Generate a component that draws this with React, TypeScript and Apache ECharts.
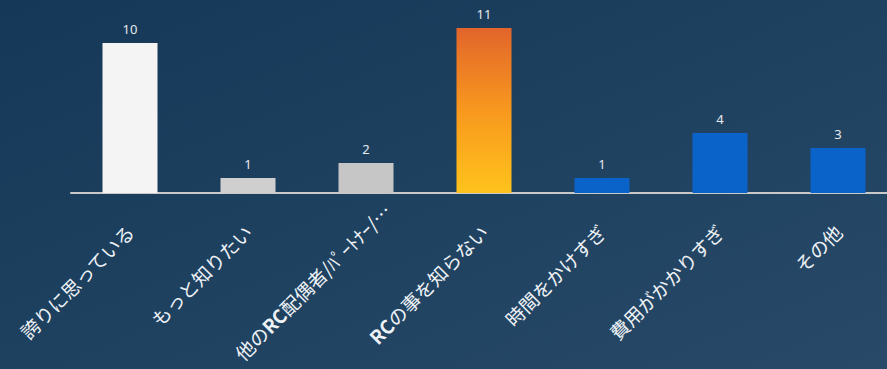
import React, { useEffect, useRef } from "react";
import * as echarts from "echarts";

const categories = [
  "誇りに思っている",
  "もっと知りたい",
  "他のRC配偶者/ﾊﾟｰﾄﾅｰ/…",
  "RCの事を知らない",
  "時間をかけすぎ",
  "費用がかかりすぎ",
  "その他",
];
const values = [10, 1, 2, 11, 1, 4, 3];
const barColors = ["#f4f4f4", "#cfcfcf", "#c6c6c6", "orange", "#0a63c9", "#0a63c9", "#0a63c9"];

export default function App() {
  const ref = useRef<HTMLDivElement>(null);
  useEffect(() => {
    if (!ref.current) return;
    const chart = echarts.init(ref.current, undefined, { renderer: "svg" });
    const orange = new echarts.graphic.LinearGradient(0, 0, 0, 1, [
      { offset: 0, color: "#e2652b" },
      { offset: 0.5, color: "#f8981e" },
      { offset: 1, color: "#ffc31c" },
    ]);
    chart.setOption({
      animation: false,
      backgroundColor: new echarts.graphic.LinearGradient(0, 0, 1, 1, [
        { offset: 0, color: "#163858" },
        { offset: 1, color: "#284a68" },
      ]),
      grid: {
        left: 71,
        width: 826,
        top: 13,
        bottom: 176,
        containLabel: false,
        outerBoundsMode: "none",
      },
      xAxis: {
        type: "category",
        data: categories.map((c, i) =>
          i === 2 ? { value: c, textStyle: { padding: [0, -30, 0, 0] } } : c
        ),
        axisLine: { show: true, lineStyle: { color: "#c9c9c9", width: 2 } },
        axisTick: { show: false },
        axisLabel: {
          interval: 0,
          rotate: 45,
          margin: 35,
          color: "#eef2f6",
          fontSize: 19,
          fontFamily: "Noto Sans CJK JP",
          formatter: (v: string) => v.replace(/RC/g, "{b|RC}"),
          rich: {
            b: { fontWeight: "bold", fontSize: 19, color: "#eef2f6", fontFamily: "Noto Sans CJK JP" },
          },
        },
      },
      yAxis: {
        type: "value",
        min: 0,
        max: 12,
        show: false,
        splitLine: { show: false },
      },
      series: [
        {
          type: "bar",
          barWidth: 55,
          data: values.map((v, i) => ({
            value: v,
            itemStyle: { color: barColors[i] === "orange" ? orange : barColors[i] },
          })),
          label: {
            show: true,
            position: "top",
            distance: 8,
            color: "#e6e9ee",
            fontSize: 13,
            fontFamily: "Noto Sans",
          },
        },
      ],
    });
    return () => chart.dispose();
  }, []);
  return (
    <div
      ref={ref}
      style={{ position: "absolute", left: 0, top: 0, width: 887, height: 369 }}
    />
  );
}
